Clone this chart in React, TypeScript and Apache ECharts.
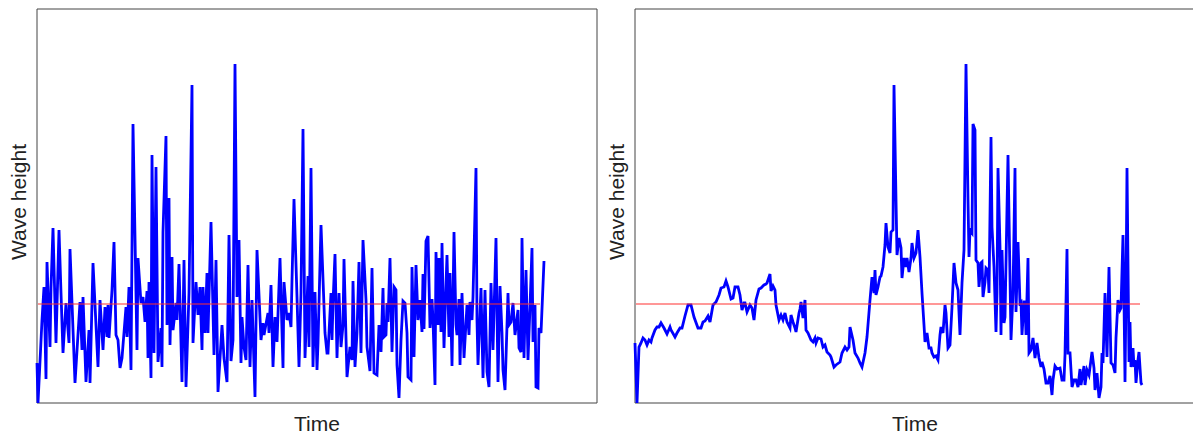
import React, { useEffect, useRef } from "react";
import * as echarts from "echarts";

// Left panel: shuffled series (time, wave height)
const leftTime = [
  0,1,5,7,9,10,13,14,16,19,
  22,24,26,29,32,33,38,43,45,46,
  49,52,53,56,61,63,66,68,70,71,
  72,75,77,79,81,83,85,89,90,92,
  94,96,100,101,104,106,108,110,111,112,
  114,115,117,119,121,124,125,126,129,130,
  132,133,135,136,139,140,142,145,147,149,
  152,155,156,159,161,163,165,166,168,170,
  171,174,177,179,181,185,187,190,192,194,
  196,198,200,202,204,205,207,209,211,213,
  215,218,220,224,226,227,231,232,234,236,
  238,240,243,246,247,250,252,254,255,257,
  260,262,264,266,268,271,272,274,276,278,
  280,281,284,288,290,291,294,295,296,298,
  300,302,304,306,307,310,313,315,316,318,
  320,322,324,326,329,330,333,335,337,340,
  342,344,346,347,349,350,351,353,355,357,
  359,360,362,364,366,368,370,371,374,375,
  377,379,381,383,385,386,387,389,391,393,
  395,396,398,399,401,402,404,405,407,408,
  410,412,413,415,417,419,420,422,423,425,
  427,430,432,433,435,436,439,440,441,444,
  446,448,450,452,454,456,459,461,463,465,
  466,468,471,472,474,476,478,481,482,484,
  485,487,489,491,493,495,496,498,499,501,
  502,504,507,
];
const leftHeight = [
  40,0,83,116,24,141,56,115,175,60,
  173,110,50,100,60,154,20,101,53,106,
  21,73,20,140,36,103,53,96,66,98,
  65,113,161,68,63,35,45,96,66,116,
  33,279,53,145,100,106,81,112,45,121,
  25,248,50,236,41,75,36,171,267,78,
  205,58,146,73,100,83,139,21,143,16,
  110,318,60,121,88,116,53,116,70,130,
  70,181,48,143,11,78,45,21,168,42,
  63,339,106,163,40,86,56,43,138,36,
  103,6,153,63,80,68,90,70,118,36,
  86,61,145,35,121,83,90,76,123,204,
  106,36,110,274,45,127,56,235,36,111,
  33,60,178,70,50,50,110,63,100,149,
  45,110,56,78,144,26,56,43,122,36,
  70,141,50,163,103,56,32,135,30,28,
  78,51,115,66,68,100,81,145,51,116,
  113,38,5,63,102,100,70,26,23,136,
  46,138,83,103,71,129,74,162,167,75,
  104,83,18,151,78,145,71,160,55,88,
  148,66,130,37,171,78,68,104,38,110,
  45,98,68,101,83,106,235,83,38,115,
  25,113,31,16,120,53,165,21,117,70,
  33,13,110,78,81,100,68,93,55,51,
  165,45,133,43,96,155,61,98,16,15,
  75,70,142,
];

// Right panel: original time-ordered series
const rightTime = [
  0,2,4,6,8,10,12,14,16,17,
  20,22,24,26,29,30,32,35,36,40,
  42,45,47,50,53,56,59,63,66,68,
  70,73,75,78,81,84,86,89,91,93,
  96,98,100,103,105,107,109,110,112,115,
  117,119,121,124,126,129,131,132,135,136,
  138,140,141,144,146,148,150,152,155,156,
  158,160,161,164,165,166,168,170,171,173,
  176,178,180,181,183,186,188,190,192,195,
  196,199,201,205,207,210,212,214,215,218,
  220,223,225,227,230,232,235,237,239,240,
  241,243,245,246,248,250,251,253,255,256,
  258,259,261,262,264,266,267,269,271,272,
  274,276,277,279,281,283,285,287,289,290,
  292,294,296,297,299,301,303,305,306,308,
  310,311,313,315,317,319,321,323,325,327,
  329,331,333,334,335,337,338,340,341,343,
  344,346,347,348,350,351,353,354,356,357,
  359,361,362,363,365,366,367,369,370,373,
  375,376,378,380,381,383,385,386,387,389,
  390,391,393,394,396,398,400,402,404,406,
  407,409,411,413,415,417,418,420,422,425,
  427,429,430,432,433,435,437,439,441,443,
  445,446,449,450,452,454,457,459,460,462,
  464,466,467,468,470,471,472,474,476,478,
  480,481,483,485,486,488,489,490,491,492,
  494,495,496,498,499,500,501,503,504,506,
  507,
];
const rightHeight = [
  60,0,56,60,65,63,58,63,61,65,
  73,76,76,80,75,73,69,76,73,66,
  70,75,75,87,98,98,86,75,75,81,
  82,87,81,98,101,108,115,116,122,116,
  104,105,116,116,108,93,100,100,91,98,
  95,83,103,114,115,118,119,120,129,112,
  117,113,98,83,88,83,90,81,75,88,
  81,75,71,90,94,101,85,103,73,70,
  63,61,65,60,65,64,56,58,51,48,
  46,36,38,41,50,56,53,56,76,63,
  50,45,40,36,50,66,103,126,110,133,
  108,116,126,127,136,158,180,156,150,171,
  173,318,203,148,165,155,125,145,136,145,
  131,145,160,145,150,173,146,110,78,61,
  70,55,55,50,46,47,43,68,76,70,
  98,90,55,58,96,140,120,113,68,120,
  153,339,203,146,173,170,279,273,143,140,
  116,140,141,106,121,135,133,110,266,176,
  136,71,110,235,156,68,153,80,86,248,
  126,63,110,235,91,161,100,101,68,101,
  101,68,145,50,53,65,45,60,45,36,
  41,34,20,20,27,8,23,37,34,35,
  23,23,48,154,50,50,16,23,23,16,
  34,18,37,18,33,28,51,35,13,30,
  5,16,50,40,110,78,46,136,40,38,
  30,65,103,93,95,168,103,21,111,235,
  41,81,36,55,36,43,20,43,51,20,
  18,
];

// Threshold (red reference line)
const threshold = 99;
const leftThresholdSpan = [1, 503];
const rightThresholdSpan = [1, 505];

const timeMax = 560;
const heightMax = 394;

const FONT = "'Liberation Sans', Arial, Helvetica, sans-serif";

function zip(xs: number[], ys: number[]) {
  return xs.map((x, i) => [x, ys[i]]);
}

export default function App() {
  const ref = useRef<HTMLDivElement>(null);

  useEffect(() => {
    if (!ref.current) return;
    const chart = echarts.init(ref.current, null, { renderer: "svg" });

    const nameStyle = { fontFamily: FONT, fontSize: 21, color: "#222" };
    const gridBase = {
      top: 9,
      width: 560,
      height: 394,
      show: true,
      borderColor: "#444",
      borderWidth: 1,
      backgroundColor: "transparent",
      containLabel: false,
      outerBoundsMode: "none",
    };

    const xAxes = [0, 1].map((i) => ({
      type: "value",
      gridIndex: i,
      min: 0,
      max: timeMax,
      name: "Time",
      nameLocation: "middle",
      nameGap: 10,
      nameTextStyle: nameStyle,
      axisLine: { show: false },
      axisTick: { show: false },
      axisLabel: { show: false },
      splitLine: { show: false },
    }));
    const yAxes = [0, 1].map((i) => ({
      type: "value",
      gridIndex: i,
      min: 0,
      max: heightMax,
      name: "Wave height",
      nameLocation: "middle",
      nameGap: 8,
      nameTextStyle: { ...nameStyle, padding: [0, 0, 0, 8] },
      axisLine: { show: false },
      axisTick: { show: false },
      axisLabel: { show: false },
      splitLine: { show: false },
    }));

    const waveLine = (idx: number, data: number[][]) => ({
      type: "line",
      xAxisIndex: idx,
      yAxisIndex: idx,
      data,
      symbol: "none",
      showSymbol: false,
      silent: true,
      lineStyle: { color: "#0000ff", width: 2.8, join: "miter" },
      z: 2,
    });
    const thrLine = (idx: number, span: number[]) => ({
      type: "line",
      xAxisIndex: idx,
      yAxisIndex: idx,
      data: span.map((t) => [t, threshold]),
      symbol: "none",
      showSymbol: false,
      silent: true,
      lineStyle: { color: "#ff3030", width: 1.2 },
      z: 3,
    });

    chart.setOption({
      animation: false,
      grid: [
        { ...gridBase, left: 37 },
        { ...gridBase, left: 635 },
      ],
      xAxis: xAxes,
      yAxis: yAxes,
      series: [
        waveLine(0, zip(leftTime, leftHeight)),
        thrLine(0, leftThresholdSpan),
        waveLine(1, zip(rightTime, rightHeight)),
        thrLine(1, rightThresholdSpan),
      ],
    });

    return () => chart.dispose();
  }, []);

  return (
    <div
      ref={ref}
      style={{ position: "absolute", left: 0, top: 0, width: 1193, height: 434, background: "#fff" }}
    />
  );
}
